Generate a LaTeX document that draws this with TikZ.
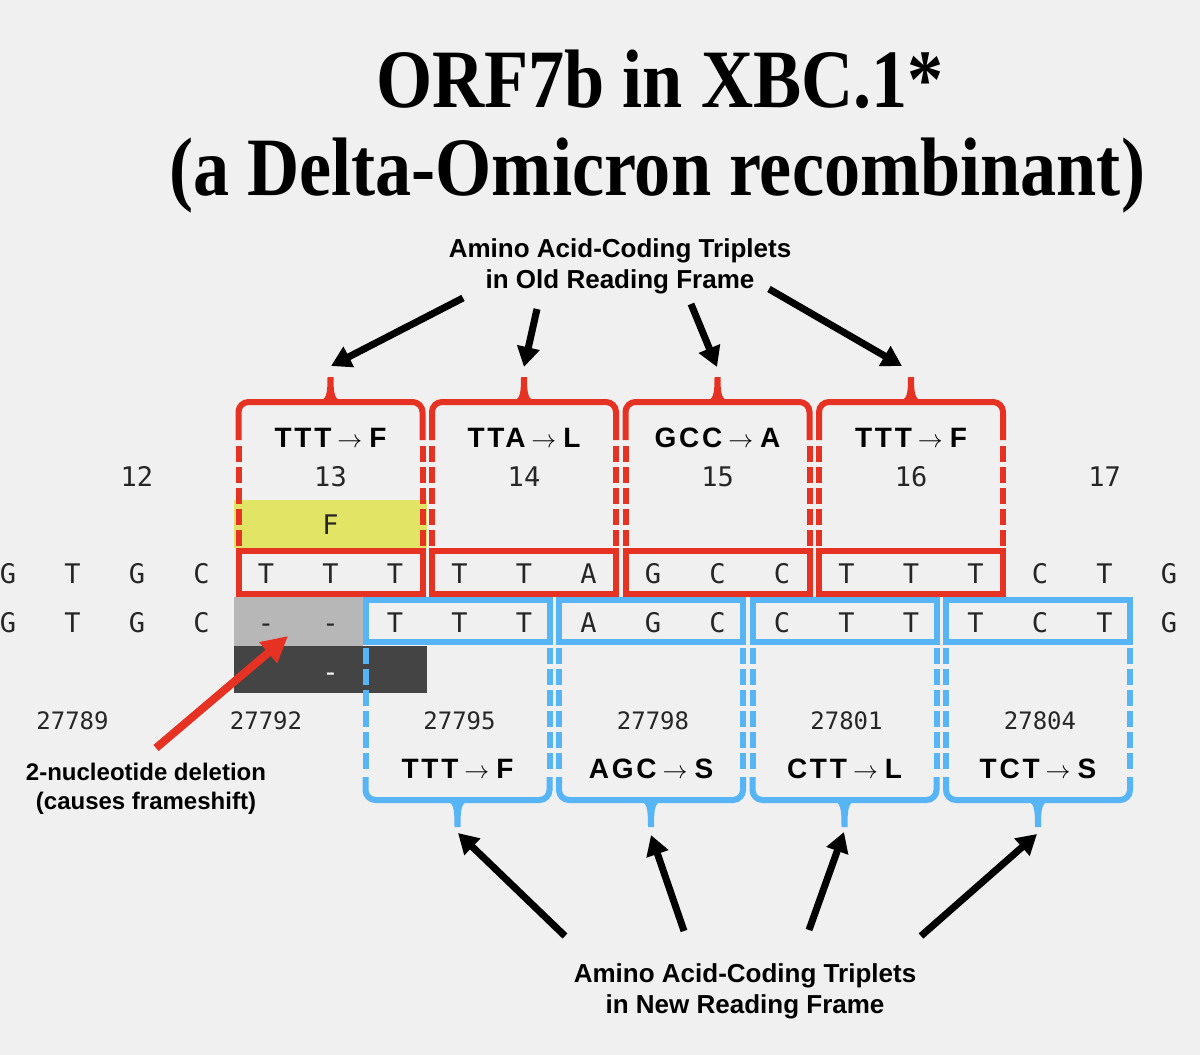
\documentclass[tikz,border=0pt]{standalone}
\usepackage{fontspec}
\usepackage{graphicx}
\usepackage{xcolor}
\usepackage{tikz}
\usetikzlibrary{arrows.meta}

\setmainfont{Liberation Serif}
\newfontfamily\lblfont{Liberation Sans}
\newfontfamily\trifont[LetterSpace=10]{Liberation Sans}
\newfontfamily\seqfont{DejaVu Sans Mono}

\definecolor{frameRed}{RGB}{230,50,35}
\definecolor{frameBlue}{RGB}{87,180,245}
\definecolor{hiYellow}{RGB}{225,228,100}
\definecolor{gapGray}{RGB}{183,183,183}
\definecolor{gapDark}{RGB}{68,68,68}
\definecolor{bgGray}{RGB}{240,240,240}

\newcommand{\tto}{\hspace{6pt}$\rightarrow$\hspace{7pt}}

\begin{document}
\begin{tikzpicture}[
    x=1pt, y=-1pt,
    nuc/.style={font=\seqfont\fontsize{27}{27}\selectfont, text=black!85, anchor=base, inner sep=0pt},
    aapos/.style={nuc},
    ntpos/.style={nuc, font=\seqfont\fontsize{24}{24}\selectfont},
    % ── codon headings ──
    triplet/.style={font=\trifont\bfseries\fontsize{28}{28}\selectfont, anchor=base, inner sep=0pt},
    note/.style={font=\lblfont\bfseries\fontsize{26}{31}\selectfont, align=center, inner sep=0pt},
    smallnote/.style={note, font=\lblfont\bfseries\fontsize{24}{29}\selectfont},
    title/.style={font=\bfseries\fontsize{83}{90}\selectfont, anchor=base, inner sep=0pt},
    % ── reading frames ──
    oldframe/.style={draw=frameRed, line width=6pt},
    olddash/.style={oldframe, dash pattern=on 15.5pt off 5.5pt},
    newframe/.style={draw=frameBlue, line width=6pt},
    newdash/.style={newframe, dash pattern=on 15.5pt off 5.5pt},
    pointer/.style={-{Triangle[length=20pt, width=22pt]}, line width=7pt, draw=black},
    delpointer/.style={-{Triangle[length=26pt, width=26pt]}, line width=8pt, draw=frameRed},
]

\def\S{64.5}
\def\H{92}

\useasboundingbox (0,0) rectangle (1200,1055);
\fill[bgGray] (0,0) rectangle (1200,1055);

% ══════════════════════════════════════
% Title
% ══════════════════════════════════════
\node[title] (ttlA) at (660,107) {\scalebox{0.87}[1]{ORF7b in XBC.1*}};
\node[title] (ttlB) at (657,195) {\scalebox{0.87}[1]{(a Delta-Omicron recombinant)}};

% ══════════════════════════════════════
% Shaded cells
% ══════════════════════════════════════
\fill[hiYellow] (8+3.5*\S,500) rectangle (8+6.5*\S,548);
\fill[gapGray] (8+3.5*\S,597) rectangle (8+5.5*\S,646);
\fill[gapDark] (8+3.5*\S,646) rectangle (8+6.5*\S,693);

% ══════════════════════════════════════
% OLD reading frame (red)
% ══════════════════════════════════════
% Codon 13
\begin{scope}[shift={(8+5*\S,0)}]
    \draw[oldframe, rounded corners=10pt] (-\H,440) -- (-\H,402) -- (\H,402) -- (\H,440);
    \fill[frameRed] (-12,401) .. controls (-4,400) and (-3,394) .. (-3,377) -- (3,377) .. controls (3,394) and (4,400) .. (12,401) -- cycle;
    \draw[olddash] (-\H,446) -- (-\H,548);
    \draw[olddash] (\H,446) -- (\H,548);
    \draw[oldframe] (-\H,551) rectangle (\H,593.5);
    \node[triplet] (oldA) at (0,447) {TTT\tto F};
\end{scope}

% Codon 14
\begin{scope}[shift={(8+8*\S,0)}]
    \draw[oldframe, rounded corners=10pt] (-\H,440) -- (-\H,402) -- (\H,402) -- (\H,440);
    \fill[frameRed] (-12,401) .. controls (-4,400) and (-3,394) .. (-3,377) -- (3,377) .. controls (3,394) and (4,400) .. (12,401) -- cycle;
    \draw[olddash] (-\H,446) -- (-\H,548);
    \draw[olddash] (\H,446) -- (\H,548);
    \draw[oldframe] (-\H,551) rectangle (\H,593.5);
    \node[triplet] (oldB) at (0,447) {TTA\tto L};
\end{scope}

% Codon 15
\begin{scope}[shift={(8+11*\S,0)}]
    \draw[oldframe, rounded corners=10pt] (-\H,440) -- (-\H,402) -- (\H,402) -- (\H,440);
    \fill[frameRed] (-12,401) .. controls (-4,400) and (-3,394) .. (-3,377) -- (3,377) .. controls (3,394) and (4,400) .. (12,401) -- cycle;
    \draw[olddash] (-\H,446) -- (-\H,548);
    \draw[olddash] (\H,446) -- (\H,548);
    \draw[oldframe] (-\H,551) rectangle (\H,593.5);
    \node[triplet] (oldC) at (0,447) {GCC\tto A};
\end{scope}

% Codon 16
\begin{scope}[shift={(8+14*\S,0)}]
    \draw[oldframe, rounded corners=10pt] (-\H,440) -- (-\H,402) -- (\H,402) -- (\H,440);
    \fill[frameRed] (-12,401) .. controls (-4,400) and (-3,394) .. (-3,377) -- (3,377) .. controls (3,394) and (4,400) .. (12,401) -- cycle;
    \draw[olddash] (-\H,446) -- (-\H,548);
    \draw[olddash] (\H,446) -- (\H,548);
    \draw[oldframe] (-\H,551) rectangle (\H,593.5);
    \node[triplet] (oldD) at (0,447) {TTT\tto F};
\end{scope}

% ══════════════════════════════════════
% NEW reading frame (blue)
% ══════════════════════════════════════
% Codon at 27795
\begin{scope}[shift={(6+7*\S,0)}]
    \draw[newframe] (-\H,600) rectangle (\H,642);
    \draw[newdash] (-\H,648) -- (-\H,771);
    \draw[newdash] (\H,648) -- (\H,771);
    \draw[newframe, rounded corners=10pt] (-\H,777) -- (-\H,800) -- (\H,800) -- (\H,777);
    \fill[frameBlue] (-12,801) .. controls (-4,802) and (-3,808) .. (-3,827) -- (3,827) .. controls (3,808) and (4,802) .. (12,801) -- cycle;
    \node[triplet] (newA) at (0,778) {TTT\tto F};
\end{scope}

% Codon at 27798
\begin{scope}[shift={(6+10*\S,0)}]
    \draw[newframe] (-\H,600) rectangle (\H,642);
    \draw[newdash] (-\H,648) -- (-\H,771);
    \draw[newdash] (\H,648) -- (\H,771);
    \draw[newframe, rounded corners=10pt] (-\H,777) -- (-\H,800) -- (\H,800) -- (\H,777);
    \fill[frameBlue] (-12,801) .. controls (-4,802) and (-3,808) .. (-3,827) -- (3,827) .. controls (3,808) and (4,802) .. (12,801) -- cycle;
    \node[triplet] (newB) at (0,778) {AGC\tto S};
\end{scope}

% Codon at 27801
\begin{scope}[shift={(6+13*\S,0)}]
    \draw[newframe] (-\H,600) rectangle (\H,642);
    \draw[newdash] (-\H,648) -- (-\H,771);
    \draw[newdash] (\H,648) -- (\H,771);
    \draw[newframe, rounded corners=10pt] (-\H,777) -- (-\H,800) -- (\H,800) -- (\H,777);
    \fill[frameBlue] (-12,801) .. controls (-4,802) and (-3,808) .. (-3,827) -- (3,827) .. controls (3,808) and (4,802) .. (12,801) -- cycle;
    \node[triplet] (newC) at (0,778) {CTT\tto L};
\end{scope}

% Codon at 27804
\begin{scope}[shift={(6+16*\S,0)}]
    \draw[newframe] (-\H,600) rectangle (\H,642);
    \draw[newdash] (-\H,648) -- (-\H,771);
    \draw[newdash] (\H,648) -- (\H,771);
    \draw[newframe, rounded corners=10pt] (-\H,777) -- (-\H,800) -- (\H,800) -- (\H,777);
    \fill[frameBlue] (-12,801) .. controls (-4,802) and (-3,808) .. (-3,827) -- (3,827) .. controls (3,808) and (4,802) .. (12,801) -- cycle;
    \node[triplet] (newD) at (0,778) {TCT\tto S};
\end{scope}

% ══════════════════════════════════════
% Position numbers
% ══════════════════════════════════════
\node[aapos] (aa12) at (8+2*\S,486) {12};
\node[aapos] (aa13) at (8+5*\S,486) {13};
\node[aapos] (aa14) at (8+8*\S,486) {14};
\node[aapos] (aa15) at (8+11*\S,486) {15};
\node[aapos] (aa16) at (8+14*\S,486) {16};
\node[aapos] (aa17) at (8+17*\S,486) {17};
\node[nuc] (aaF) at (8+5*\S,534) {F};

\node[ntpos] (nt89) at (8+1*\S,729) {27789};
\node[ntpos] (nt92) at (8+4*\S,729) {27792};
\node[ntpos] (nt95) at (8+7*\S,729) {27795};
\node[ntpos] (nt98) at (8+10*\S,729) {27798};
\node[ntpos] (nt01) at (8+13*\S,729) {27801};
\node[ntpos] (nt04) at (8+16*\S,729) {27804};

% ══════════════════════════════════════
% Sequences
% ══════════════════════════════════════
% Row 1 (old)
\node[nuc] (o0) at (8+0*\S,583) {G}; \node[nuc] (o1) at (8+1*\S,583) {T};
\node[nuc] (o2) at (8+2*\S,583) {G}; \node[nuc] (o3) at (8+3*\S,583) {C};
\node[nuc] (o4) at (8+4*\S,583) {T}; \node[nuc] (o5) at (8+5*\S,583) {T}; \node[nuc] (o6) at (8+6*\S,583) {T};
\node[nuc] (o7) at (8+7*\S,583) {T}; \node[nuc] (o8) at (8+8*\S,583) {T}; \node[nuc] (o9) at (8+9*\S,583) {A};
\node[nuc] (o10) at (8+10*\S,583) {G}; \node[nuc] (o11) at (8+11*\S,583) {C}; \node[nuc] (o12) at (8+12*\S,583) {C};
\node[nuc] (o13) at (8+13*\S,583) {T}; \node[nuc] (o14) at (8+14*\S,583) {T}; \node[nuc] (o15) at (8+15*\S,583) {T};
\node[nuc] (o16) at (8+16*\S,583) {C}; \node[nuc] (o17) at (8+17*\S,583) {T}; \node[nuc] (o18) at (8+18*\S,583) {G};

% Row 2 (new)
\node[nuc] (n0) at (8+0*\S,632) {G}; \node[nuc] (n1) at (8+1*\S,632) {T};
\node[nuc] (n2) at (8+2*\S,632) {G}; \node[nuc] (n3) at (8+3*\S,632) {C};
\node[nuc] (n4) at (8+4*\S,632) {-}; \node[nuc] (n5) at (8+5*\S,632) {-};
\node[nuc] (n6) at (8+6*\S,632) {T}; \node[nuc] (n7) at (8+7*\S,632) {T}; \node[nuc] (n8) at (8+8*\S,632) {T};
\node[nuc] (n9) at (8+9*\S,632) {A}; \node[nuc] (n10) at (8+10*\S,632) {G}; \node[nuc] (n11) at (8+11*\S,632) {C};
\node[nuc] (n12) at (8+12*\S,632) {C}; \node[nuc] (n13) at (8+13*\S,632) {T}; \node[nuc] (n14) at (8+14*\S,632) {T};
\node[nuc] (n15) at (8+15*\S,632) {T}; \node[nuc] (n16) at (8+16*\S,632) {C}; \node[nuc] (n17) at (8+17*\S,632) {T};
\node[nuc] (n18) at (8+18*\S,632) {G};

% Row 3 (deleted codon)
\node[nuc, text=white] (d5) at (8+5*\S,681) {-};

% ══════════════════════════════════════
% Callouts
% ══════════════════════════════════════
\node[note] (oldnote) at (620,266) {Amino Acid-Coding Triplets\\in Old Reading Frame};
\node[note] (newnote) at (745,991) {Amino Acid-Coding Triplets\\in New Reading Frame};
\node[smallnote] (delnote) at (146,789) {2-nucleotide deletion\\(causes frameshift)};

\coordinate (oldA0) at (463,298); \coordinate (oldA1) at (331,366);
\coordinate (oldB0) at (537,309); \coordinate (oldB1) at (524,367);
\coordinate (oldC0) at (691,304); \coordinate (oldC1) at (717,367);
\coordinate (oldD0) at (769,289); \coordinate (oldD1) at (902,366);
\draw[pointer] (oldA0) -- (oldA1);
\draw[pointer] (oldB0) -- (oldB1);
\draw[pointer] (oldC0) -- (oldC1);
\draw[pointer] (oldD0) -- (oldD1);

\coordinate (newA0) at (565,936); \coordinate (newA1) at (458,833);
\coordinate (newB0) at (684,931); \coordinate (newB1) at (651,835);
\coordinate (newC0) at (809,930); \coordinate (newC1) at (844,832);
\coordinate (newD0) at (921,936); \coordinate (newD1) at (1037,834);
\draw[pointer] (newA0) -- (newA1);
\draw[pointer] (newB0) -- (newB1);
\draw[pointer] (newC0) -- (newC1);
\draw[pointer] (newD0) -- (newD1);

\coordinate (del0) at (156,748); \coordinate (del1) at (288,636);
\draw[delpointer] (del0) -- (del1);

\end{tikzpicture}
\end{document}
